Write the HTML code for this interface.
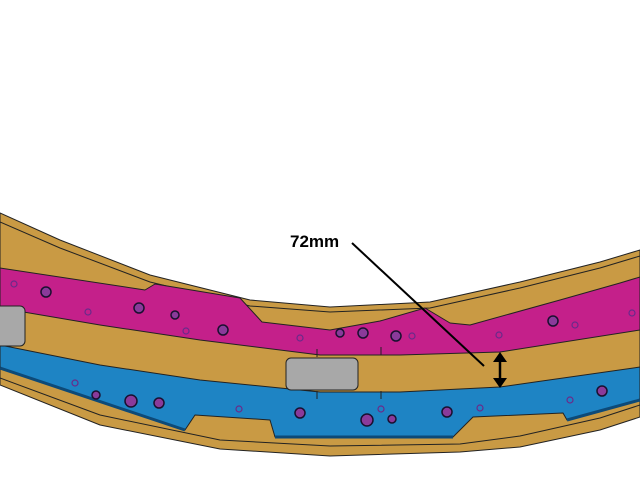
<!DOCTYPE html>
<html><head><style>html,body{margin:0;padding:0;background:#fff;width:640px;height:480px;overflow:hidden}</style></head>
<body>
<svg width="640" height="480" viewBox="0 0 640 480" xmlns="http://www.w3.org/2000/svg">
<g stroke="#222" stroke-width="1" stroke-linejoin="round">
<!-- outer tan -->
<path d="M0,213 L60,240 L150,275 L250,300 L330,307 L430,302 L520,282 L600,262 L640,250 L640,417 L600,430 L520,447 L460,452 L330,456 L220,449 L100,425 L0,385 Z" fill="#c99a44"/>
<path d="M0,222 L60,248 L150,282 L250,306 L330,312 L430,308 L520,288 L600,268 L640,256" fill="none"/>
<path d="M0,378 L100,415 L220,440 L330,446 L460,444 L520,436 L600,418 L640,405" fill="none"/>
<!-- magenta -->
<path d="M0,268 L145,290 L155,284 L240,298 L262,322 L330,330 L380,321 L425,308 L450,323 L470,325 L560,300 L620,283 L640,277 L640,330 L500,352 L400,355 L320,355 L200,340 L100,325 L0,308 Z" fill="#c4208a"/>
<!-- blue -->
<path d="M0,345 L100,365 L200,380 L320,392 L400,392 L500,387 L640,367 L640,400 L567,420 L563,413 L473,417 L453,437 L275,437 L270,420 L195,415 L185,430 L0,368 Z" fill="#1e84c4"/>
<path d="M0,368 L185,430 M275,437 L453,437 M567,420 L640,400" stroke="#0d4a78" stroke-width="3" fill="none"/>
<!-- gray -->
<rect x="-10" y="306" width="35" height="40" rx="5" fill="#a8a8a8"/>
<rect x="286" y="358" width="72" height="32" rx="5" fill="#a8a8a8"/>
<path d="M317,349 v8 M317,391 v8 M381,347 v8 M381,391 v8" fill="none"/>
</g>
<g fill="#8a3a9a" stroke="#1a1030" stroke-width="1.5">
<circle cx="46" cy="292" r="5"/><circle cx="139" cy="308" r="5"/><circle cx="175" cy="315" r="4"/><circle cx="223" cy="330" r="5"/>
<circle cx="340" cy="333" r="4"/><circle cx="363" cy="333" r="5"/><circle cx="396" cy="336" r="5"/><circle cx="553" cy="321" r="5"/>
<circle cx="96" cy="395" r="4"/><circle cx="131" cy="401" r="6"/><circle cx="159" cy="403" r="5"/><circle cx="300" cy="413" r="5"/>
<circle cx="367" cy="420" r="6"/><circle cx="392" cy="419" r="4"/><circle cx="447" cy="412" r="5"/><circle cx="602" cy="391" r="5"/>
</g>
<g fill="none" stroke="#6a2a8a" stroke-width="1.2">
<circle cx="14" cy="284" r="3"/><circle cx="88" cy="312" r="3"/><circle cx="186" cy="331" r="3"/><circle cx="300" cy="338" r="3"/>
<circle cx="412" cy="336" r="3"/><circle cx="499" cy="335" r="3"/><circle cx="575" cy="325" r="3"/><circle cx="632" cy="313" r="3"/>
<circle cx="75" cy="383" r="3"/><circle cx="239" cy="409" r="3"/><circle cx="381" cy="409" r="3"/><circle cx="480" cy="408" r="3"/><circle cx="570" cy="400" r="3"/>
</g>
<text x="290" y="247" font-family="Liberation Sans, sans-serif" font-weight="bold" font-size="17" fill="#000">72mm</text>
<line x1="352" y1="243" x2="484" y2="366" stroke="#000" stroke-width="2"/>
<line x1="500" y1="358" x2="500" y2="382" stroke="#000" stroke-width="2.5"/>
<path d="M493,362 L500,352 L507,362 Z M493,378 L500,388 L507,378 Z" fill="#000"/>
</svg>
</body></html>
